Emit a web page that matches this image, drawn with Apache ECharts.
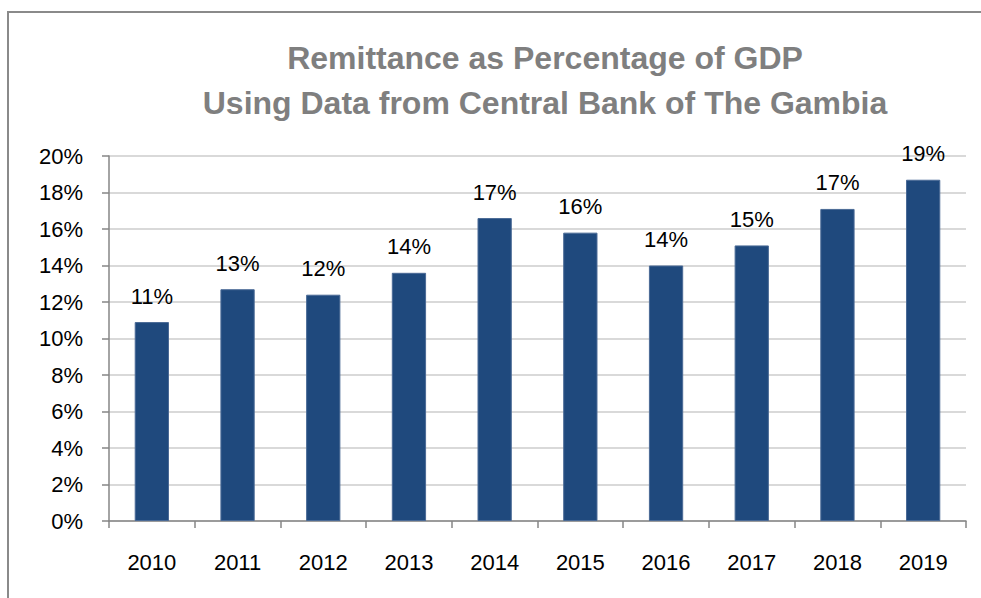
<!DOCTYPE html>
<html>
<head>
<meta charset="utf-8">
<script src="https://cdn.jsdelivr.net/npm/echarts@6/dist/echarts.min.js"></script>
<style>
html,body{margin:0;padding:0;background:#fff;}
#chart{width:981px;height:598px;}
</style>
</head>
<body>
<div id="chart"></div>
<script>
var titleLines = ['Remittance as Percentage of GDP', 'Using Data from Central Bank of The Gambia'];
var years = ['2010','2011','2012','2013','2014','2015','2016','2017','2018','2019'];
var remittancePct = [10.9, 12.7, 12.4, 13.6, 16.6, 15.8, 14.0, 15.1, 17.1, 18.7];
var yMin = 0, yMax = 20, yStep = 2;

var chart = echarts.init(document.getElementById('chart'), null, {renderer: 'svg'});
var FONT = '"Liberation Sans", Arial, sans-serif';
chart.setOption({
  animation: false,
  backgroundColor: '#ffffff',
  graphic: [{
    type: 'polyline',
    shape: {points: [[8, 598], [8, 12], [981, 12]]},
    style: {stroke: '#8a8a8a', lineWidth: 2, fill: null},
    silent: true
  }],
  title: {
    text: titleLines.join('\n'),
    left: 540,
    top: 30,
    textAlign: 'center',
    textStyle: {
      fontFamily: FONT,
      fontSize: 32,
      fontWeight: 'bold',
      color: '#7f7f7f',
      lineHeight: 45
    }
  },
  grid: {left: 109, right: 15, top: 156, bottom: 77, containLabel: false},
  xAxis: {
    type: 'category',
    data: years,
    axisLine: {lineStyle: {color: '#868686', width: 1.5}},
    axisTick: {show: true, length: 7, lineStyle: {color: '#868686', width: 1.5}},
    axisLabel: {fontFamily: FONT, fontSize: 22, color: '#000', margin: 30}
  },
  yAxis: {
    type: 'value',
    min: yMin, max: yMax, interval: yStep,
    axisLine: {show: true, lineStyle: {color: '#868686', width: 1.5}},
    axisTick: {show: true, length: 7, lineStyle: {color: '#868686', width: 1.5}},
    axisLabel: {fontFamily: FONT, fontSize: 22, color: '#000', margin: 26, formatter: function(v){return v + '%';}},
    splitLine: {show: true, lineStyle: {color: '#d9d9d9', width: 2}}
  },
  series: [{
    type: 'bar',
    data: remittancePct,
    barWidth: '40%',
    itemStyle: {color: '#1f497d', borderColor: '#4a6a96', borderWidth: 1},
    label: {
      show: true,
      position: 'top',
      distance: 15,
      fontFamily: FONT,
      fontSize: 22,
      color: '#000',
      formatter: function(p){return Math.round(p.value) + '%';}
    }
  }]
});
</script>
</body>
</html>
